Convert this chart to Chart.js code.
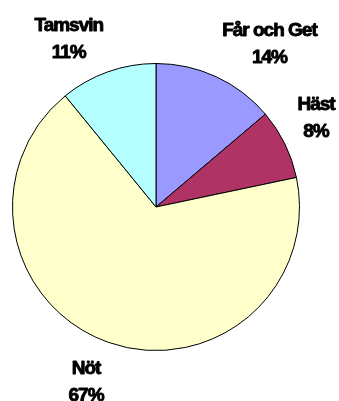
<!DOCTYPE html>
<html>
<head>
<meta charset="utf-8">
<script src="https://cdn.jsdelivr.net/npm/chart.js@4/dist/chart.umd.min.js"></script>
<style>
  html, body { margin: 0; padding: 0; background: #fff; }
  #wrap { width: 339px; height: 401px; }
</style>
</head>
<body>
<div id="wrap"><canvas id="pie" width="339" height="401"></canvas></div>
<script>
const categories = ['Får och Get', 'Häst', 'Nöt', 'Tamsvin'];
const shares = [13.8, 7.9, 67.4, 10.9];
const sliceColors = ['#9999FF', '#B03366', '#FFFFCC', '#B4FFFF'];

// labels outside the pie, box corner touching a point just outside the rim
const outsideLabels = {
    id: 'outsideLabels',
    afterDatasetsDraw(chart) {
        const ctx = chart.ctx;
        const meta = chart.getDatasetMeta(0);
        const total = shares.reduce((a, b) => a + b, 0);
        ctx.save();
        ctx.font = 'bold 19px "Liberation Sans", Arial, sans-serif';
        ctx.letterSpacing = '-1px';
        ctx.fillStyle = '#000';
        ctx.strokeStyle = '#000';
        ctx.lineWidth = 0.9;
        ctx.lineJoin = 'round';
        ctx.textAlign = 'center';
        ctx.textBaseline = 'alphabetic';
        meta.data.forEach((arc, i) => {
            const mid = (arc.startAngle + arc.endAngle) / 2;
            const r = arc.outerRadius + 14;
            const ax = arc.x + Math.cos(mid) * r;
            const ay = arc.y + Math.sin(mid) * r;
            const lines = [categories[i], Math.round(shares[i] / total * 100) + '%'];
            const w = Math.max(...lines.map(t => ctx.measureText(t).width));
            const h = 46;
            const cx = ax + Math.sign(Math.cos(mid)) * w / 2;
            const top = Math.sin(mid) < 0 ? ay - h : ay;
            [[lines[0], top + 18], [lines[1], top + 45]].forEach(([t, y]) => {
                ctx.strokeText(t, cx, y);
                ctx.fillText(t, cx, y);
            });
        });
        ctx.restore();
    }
};

new Chart(document.getElementById('pie').getContext('2d'), {
    type: 'pie',
    data: {
        labels: categories,
        datasets: [{
            data: shares,
            backgroundColor: sliceColors,
            borderColor: '#000',
            borderWidth: 1
        }]
    },
    options: {
        responsive: false,
        animation: false,
        events: [],
        layout: { padding: { left: 12, right: 39, top: 63, bottom: 50 } },
        plugins: {
            legend: { display: false },
            tooltip: { enabled: false }
        }
    },
    plugins: [outsideLabels]
});
</script>
</body>
</html>
